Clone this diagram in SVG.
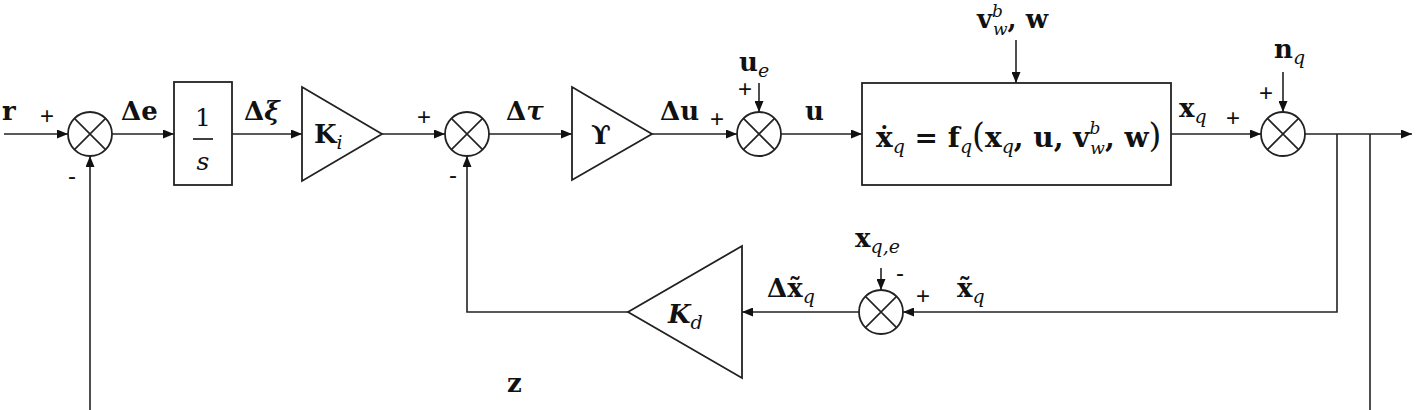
<svg xmlns="http://www.w3.org/2000/svg" xmlns:xlink="http://www.w3.org/1999/xlink" width="1422" height="410" viewBox="0 0 1422 410">
  <style>
    .ln{stroke:#222;stroke-width:1.6;fill:none}
    .blk{fill:#fff;stroke:#222;stroke-width:1.8}
    .lbl{font-family:"DejaVu Serif",serif;font-weight:bold;font-size:26px;fill:#111}
    .bi{font-style:italic;font-weight:bold}
    .sub{font-family:"DejaVu Serif",serif;font-style:italic;font-weight:normal;font-size:19px}
    .ss{font-family:"DejaVu Serif",serif;font-style:italic;font-weight:normal;font-size:17px}
    .sgn{font-family:"Liberation Sans",sans-serif;font-size:24px;fill:#111;text-anchor:middle}
    .eq{font-family:"DejaVu Serif",serif;font-weight:bold;font-size:28px;fill:#111}
  </style>
  <defs>
    <marker id="arr" markerUnits="userSpaceOnUse" markerWidth="11" markerHeight="9" refX="11" refY="4.5" orient="auto">
      <path d="M0,0 L11,4.5 L0,9 z" fill="#111"/>
    </marker>
    <!-- summing junction: circle with a cross -->
    <g id="sj">
      <circle r="22" fill="#fff" stroke="#222" stroke-width="1.8"/>
      <path d="M-15.6,-15.6 L15.6,15.6 M15.6,-15.6 L-15.6,15.6" stroke="#222" stroke-width="1.6"/>
    </g>
  </defs>

  <rect width="1422" height="410" fill="#fff"/>

  <!-- connectors -->
  <g id="connectors" class="ln">
    <path d="M4,134 H68" marker-end="url(#arr)"/>
    <path d="M112,134 H174" marker-end="url(#arr)"/>
    <path d="M232,134 H302" marker-end="url(#arr)"/>
    <path d="M382,134 H445" marker-end="url(#arr)"/>
    <path d="M489,134 H572" marker-end="url(#arr)"/>
    <path d="M652,134 H737" marker-end="url(#arr)"/>
    <path d="M759,83 V112" marker-end="url(#arr)"/>
    <path d="M781,134 H862" marker-end="url(#arr)"/>
    <path d="M1016,40 V83" marker-end="url(#arr)"/>
    <path d="M1171,134 H1261" marker-end="url(#arr)"/>
    <path d="M1283,72 V112" marker-end="url(#arr)"/>
    <path d="M1305,134 H1412" marker-end="url(#arr)"/>
    <path d="M1337,134 V312 H903" marker-end="url(#arr)"/>
    <path d="M881,268 V290" marker-end="url(#arr)"/>
    <path d="M859,312 H742" marker-end="url(#arr)"/>
    <path d="M628,312 H467 V156" marker-end="url(#arr)"/>
    <path d="M1370,134 V410"/>
    <path d="M90,410 V156" marker-end="url(#arr)"/>
  </g>

  <!-- reference input -->
  <g id="ref">
    <text class="lbl" x="2" y="120">r</text>
  </g>

  <!-- error summing junction -->
  <g id="sum1">
    <use xlink:href="#sj" x="90" y="134"/>
    <text class="sgn" x="47" y="124">+</text>
    <text class="sgn" x="72" y="184">-</text>
    <text class="lbl" x="121" y="120">Δe</text>
  </g>

  <!-- integrator -->
  <g id="integrator">
    <rect class="blk" x="174" y="82" width="58" height="103"/>
    <text x="203" y="126" font-family="DejaVu Serif, serif" font-size="25" text-anchor="middle" fill="#111">1</text>
    <path d="M193,139 H213" stroke="#111" stroke-width="1.6"/>
    <text x="203" y="170" font-family="DejaVu Serif, serif" font-style="italic" font-size="25" text-anchor="middle" fill="#111">s</text>
    <text class="lbl" x="244" y="120">Δ<tspan class="bi">ξ</tspan></text>
  </g>

  <!-- integral gain -->
  <g id="gainKi">
    <path class="blk" d="M302,87 L382,134 L302,181 z"/>
    <text class="lbl" x="314" y="143">K<tspan class="sub" dy="6">i</tspan></text>
  </g>

  <!-- inner summing junction -->
  <g id="sum2">
    <use xlink:href="#sj" x="467" y="134"/>
    <text class="sgn" x="424" y="125">+</text>
    <text class="sgn" x="453" y="183">-</text>
    <text class="lbl" x="506" y="120">Δ<tspan class="bi">τ</tspan></text>
  </g>

  <!-- allocation gain -->
  <g id="gainY">
    <path class="blk" d="M572,87 L652,134 L572,180 z"/>
    <text class="lbl" x="601" y="144" text-anchor="middle">ϒ</text>
    <text class="lbl" x="660" y="120">Δu</text>
  </g>

  <!-- trim input junction -->
  <g id="sum3">
    <use xlink:href="#sj" x="759" y="134"/>
    <text class="sgn" x="717" y="127">+</text>
    <text class="sgn" x="745" y="97">+</text>
    <text class="lbl" x="739" y="71">u<tspan class="sub" dy="6">e</tspan></text>
    <text class="lbl" x="805" y="120">u</text>
  </g>

  <!-- plant dynamics -->
  <g id="plant">
    <rect class="blk" x="862" y="83" width="309" height="102"/>
    <text class="eq" x="876" y="147">ẋ<tspan class="sub" dy="6">q</tspan><tspan dy="-6"> = f</tspan><tspan class="sub" dy="6">q</tspan><tspan dy="-6" font-weight="normal" font-size="33">(</tspan>x<tspan class="sub" dy="6">q</tspan><tspan dy="-6">, u, v</tspan><tspan class="ss" dy="-13">b</tspan><tspan class="ss" dx="-10" dy="20">w</tspan><tspan dy="-7">, w</tspan><tspan font-weight="normal" font-size="33">)</tspan></text>
    <text class="lbl" x="977" y="28">v<tspan class="ss" dy="-11">b</tspan><tspan class="ss" dx="-10" dy="18">w</tspan><tspan dy="-7">, w</tspan></text>
    <text class="lbl" x="1179" y="117">x<tspan class="sub" dy="6">q</tspan></text>
  </g>

  <!-- measurement noise junction -->
  <g id="sum4">
    <use xlink:href="#sj" x="1283" y="134"/>
    <text class="sgn" x="1233" y="126">+</text>
    <text class="sgn" x="1266" y="101">+</text>
    <text class="lbl" x="1274" y="58">n<tspan class="sub" dy="6">q</tspan></text>
  </g>

  <!-- state error junction -->
  <g id="sum5">
    <use xlink:href="#sj" x="881" y="312"/>
    <text class="sgn" x="900" y="281">-</text>
    <text class="sgn" x="923" y="304">+</text>
    <text class="lbl" x="855" y="247">x<tspan class="sub" dy="6">q,e</tspan></text>
    <text class="lbl" x="957" y="297">x̃<tspan class="sub" dy="6">q</tspan></text>
    <text class="lbl" x="767" y="297">Δx̃<tspan class="sub" dy="6">q</tspan></text>
  </g>

  <!-- feedback gain -->
  <g id="gainKd">
    <path class="blk" d="M742,246 L628,312 L742,378 z"/>
    <text class="lbl" x="668" y="323"><tspan class="bi">K</tspan><tspan class="sub" dy="6">d</tspan></text>
  </g>

  <!-- performance output -->
  <g id="outZ">
    <text class="lbl" x="507" y="392">z</text>
  </g>
</svg>
